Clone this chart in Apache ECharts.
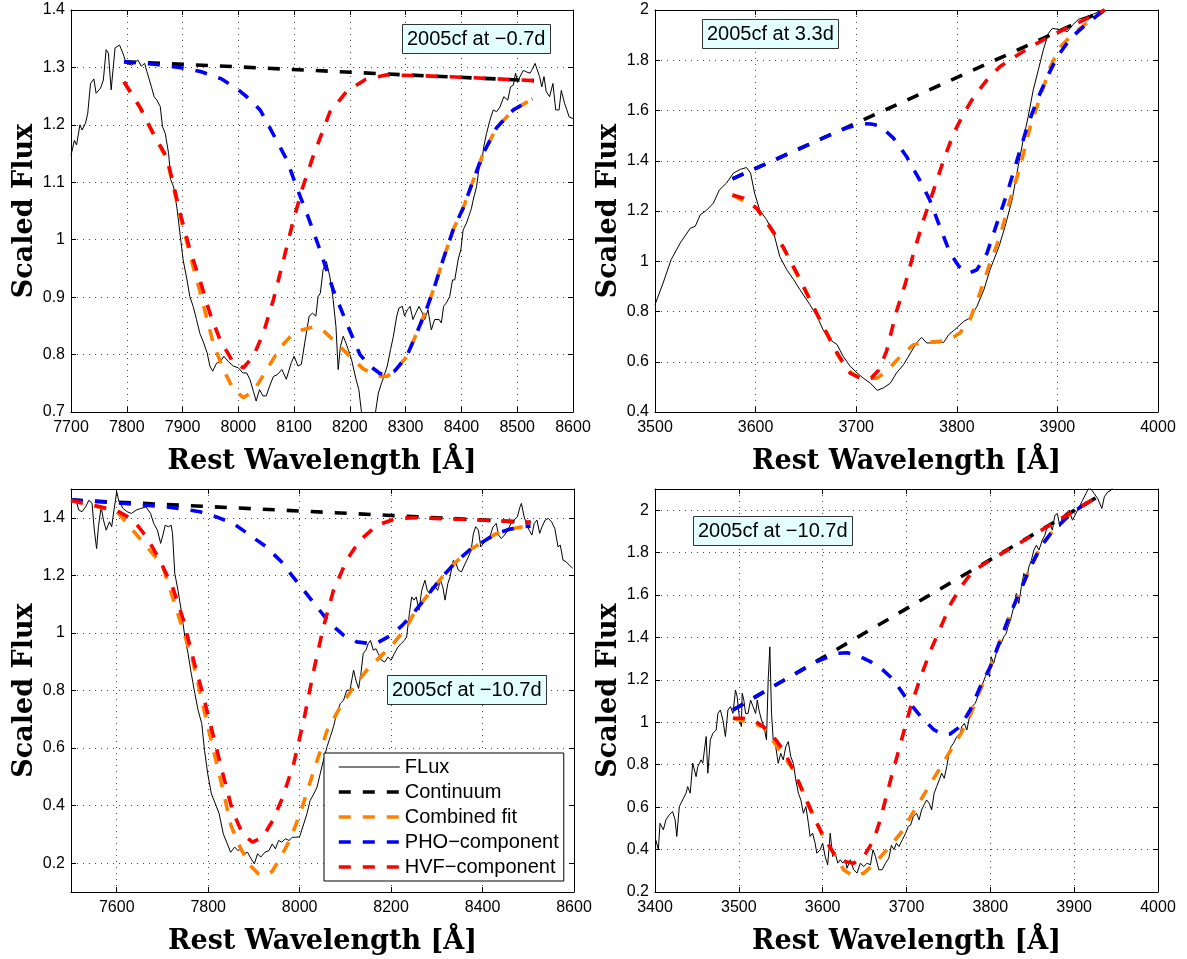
<!DOCTYPE html>
<html><head><meta charset="utf-8">
<script src="https://cdn.jsdelivr.net/npm/echarts@6/dist/echarts.min.js"></script>
<style>html,body{margin:0;padding:0;background:#fff}#c{width:1187px;height:959px}</style>
</head><body><div id="c"></div>
<script>
// ---------------- DATA ----------------
const SERIES_NAMES = ['FLux','Continuum','Combined fit','PHO−component','HVF−component'];
const BOX_TEXT = ['2005cf at −0.7d','2005cf at 3.3d','2005cf at −10.7d','2005cf at −10.7d'];
const X_TITLE = 'Rest Wavelength [Å]';
const Y_TITLE = 'Scaled Flux';
const BL_XTICKS = [7600,7800,8000,8200,8400,8600];
const BL_YTICKS = [0.2,0.4,0.6,0.8,1.0,1.2,1.4];
const BR_YTICKS = [0.2,0.4,0.6,0.8,1.0,1.2,1.4,1.6,1.8,2.0];

// Top-left panel (-0.7d)
const TL_FLUX = [[7700,1.147],[7706,1.173],[7710,1.165],[7716,1.200],[7720,1.191],[7726,1.203],[7730,1.220],[7735,1.272],[7741,1.280],[7745,1.255],[7753,1.264],[7758,1.278],[7763,1.331],[7767,1.325],[7772,1.261],[7779,1.334],[7787,1.339],[7793,1.325],[7799,1.307],[7809,1.304],[7820,1.313],[7826,1.302],[7832,1.307],[7836,1.293],[7844,1.267],[7849,1.249],[7854,1.243],[7860,1.232],[7864,1.197],[7869,1.185],[7875,1.150],[7879,1.104],[7884,1.092],[7890,1.055],[7896,1.006],[7901,0.965],[7908,0.930],[7913,0.901],[7919,0.884],[7925,0.861],[7931,0.837],[7938,0.820],[7944,0.803],[7949,0.780],[7954,0.771],[7961,0.785],[7968,0.788],[7974,0.797],[7982,0.788],[7991,0.780],[8000,0.777],[8008,0.768],[8015,0.768],[8021,0.756],[8027,0.736],[8032,0.719],[8038,0.739],[8044,0.728],[8050,0.728],[8056,0.745],[8063,0.762],[8070,0.765],[8078,0.774],[8086,0.757],[8095,0.786],[8100,0.797],[8107,0.780],[8113,0.783],[8119,0.820],[8127,0.867],[8133,0.872],[8139,0.867],[8143,0.901],[8147,0.907],[8152,0.948],[8158,0.962],[8164,0.936],[8170,0.896],[8175,0.849],[8179,0.774],[8183,0.814],[8188,0.832],[8193,0.820],[8197,0.809],[8203,0.791],[8211,0.757],[8216,0.739],[8221,0.698],[8226,0.660],[8232,0.640],[8238,0.650],[8243,0.670],[8246,0.700],[8251,0.733],[8257,0.751],[8263,0.768],[8267,0.780],[8273,0.809],[8278,0.832],[8284,0.867],[8288,0.881],[8294,0.884],[8298,0.867],[8303,0.878],[8308,0.884],[8313,0.861],[8318,0.872],[8324,0.884],[8330,0.872],[8334,0.861],[8340,0.878],[8346,0.843],[8352,0.861],[8360,0.861],[8364,0.855],[8368,0.884],[8373,0.890],[8379,0.901],[8384,0.930],[8388,0.930],[8394,0.965],[8399,0.983],[8403,1.017],[8409,1.029],[8413,1.040],[8418,1.055],[8421,1.069],[8427,1.092],[8432,1.127],[8436,1.133],[8440,1.162],[8445,1.185],[8451,1.208],[8457,1.226],[8463,1.223],[8469,1.231],[8476,1.249],[8483,1.243],[8488,1.266],[8493,1.269],[8497,1.290],[8501,1.275],[8505,1.284],[8511,1.295],[8517,1.292],[8523,1.290],[8526,1.295],[8532,1.307],[8535,1.310],[8540,1.284],[8544,1.266],[8548,1.284],[8552,1.258],[8558,1.249],[8564,1.272],[8569,1.226],[8575,1.226],[8579,1.260],[8585,1.237],[8589,1.226],[8593,1.214],[8600,1.211]];
const TL_CONT = [[7795,1.310],[8000,1.301],[8300,1.287],[8530,1.277]];
const TL_COMB = [[7795,1.275],[7824,1.230],[7848,1.183],[7872,1.140],[7896,1.040],[7913,0.975],[7931,0.910],[7955,0.820],[7973,0.774],[7991,0.740],[8009,0.725],[8027,0.736],[8051,0.774],[8075,0.812],[8092,0.830],[8110,0.842],[8134,0.848],[8152,0.842],[8176,0.820],[8200,0.797],[8224,0.775],[8248,0.763],[8266,0.762],[8281,0.771],[8302,0.797],[8320,0.838],[8337,0.878],[8352,0.919],[8367,0.965],[8385,1.017],[8403,1.055],[8421,1.103],[8439,1.150],[8463,1.195],[8493,1.226],[8527,1.245]];
const TL_PHO = [[7795,1.310],[7854,1.305],[7900,1.299],[7932,1.293],[7970,1.280],[8000,1.261],[8020,1.245],[8039,1.226],[8051,1.205],[8070,1.170],[8087,1.139],[8105,1.090],[8125,1.040],[8146,0.983],[8170,0.913],[8194,0.855],[8218,0.800],[8236,0.780],[8254,0.767],[8266,0.765],[8281,0.772],[8302,0.797],[8320,0.838],[8337,0.878],[8352,0.919],[8367,0.965],[8385,1.017],[8403,1.055],[8421,1.103],[8439,1.150],[8463,1.195],[8493,1.226],[8527,1.245]];
const TL_HVF = [[7795,1.275],[7824,1.230],[7848,1.184],[7872,1.143],[7896,1.045],[7913,0.983],[7931,0.930],[7949,0.872],[7967,0.826],[7991,0.786],[8009,0.777],[8027,0.797],[8045,0.838],[8063,0.896],[8081,0.965],[8099,1.035],[8115,1.090],[8134,1.145],[8164,1.222],[8194,1.258],[8228,1.279],[8265,1.287],[8313,1.286],[8400,1.283],[8530,1.277]];

// Top-right panel (3.3d)
const TR_FLUX = [[3500,0.827],[3508,0.913],[3516,1.006],[3525,1.072],[3535,1.131],[3540,1.139],[3545,1.185],[3551,1.202],[3558,1.231],[3564,1.284],[3571,1.311],[3578,1.351],[3585,1.366],[3591,1.373],[3595,1.351],[3599,1.271],[3604,1.205],[3611,1.165],[3618,1.112],[3624,1.019],[3631,0.966],[3638,0.926],[3644,0.887],[3654,0.827],[3661,0.781],[3667,0.728],[3674,0.688],[3681,0.668],[3687,0.622],[3694,0.582],[3701,0.555],[3707,0.535],[3714,0.515],[3721,0.486],[3727,0.496],[3734,0.515],[3740,0.555],[3747,0.588],[3754,0.635],[3760,0.675],[3765,0.697],[3770,0.675],[3777,0.675],[3787,0.677],[3792,0.708],[3798,0.728],[3807,0.761],[3813,0.774],[3820,0.820],[3827,0.887],[3833,0.966],[3842,1.059],[3848,1.139],[3855,1.245],[3861,1.377],[3866,1.483],[3871,1.576],[3876,1.682],[3881,1.761],[3886,1.841],[3891,1.907],[3895,1.927],[3900,1.923],[3905,1.920],[3910,1.914],[3915,1.940],[3921,1.963],[3928,1.973],[3936,1.984],[3944,2.000]];
const TR_CONT = [[3577,1.328],[3700,1.550],[3850,1.822],[3947,2.000]];
const TR_COMB = [[3577,1.264],[3601,1.211],[3627,1.059],[3654,0.847],[3681,0.632],[3691,0.565],[3701,0.542],[3711,0.535],[3721,0.535],[3731,0.565],[3744,0.622],[3757,0.668],[3770,0.677],[3783,0.681],[3793,0.688],[3803,0.714],[3813,0.767],[3823,0.873],[3833,0.993],[3843,1.099],[3853,1.245],[3863,1.377],[3873,1.536],[3883,1.655],[3893,1.775],[3903,1.854],[3916,1.907],[3929,1.947],[3947,2.000]];
const TR_PHO = [[3577,1.328],[3620,1.405],[3660,1.478],[3690,1.530],[3705,1.548],[3715,1.546],[3724,1.538],[3737,1.490],[3750,1.417],[3763,1.324],[3773,1.245],[3783,1.139],[3793,1.035],[3802,0.980],[3812,0.953],[3820,0.966],[3830,1.032],[3840,1.152],[3850,1.271],[3860,1.404],[3870,1.536],[3880,1.642],[3890,1.735],[3900,1.814],[3913,1.887],[3926,1.934],[3940,1.980],[3947,2.000]];
const TR_HVF = [[3577,1.264],[3588,1.251],[3601,1.211],[3614,1.139],[3627,1.059],[3641,0.953],[3654,0.847],[3667,0.741],[3681,0.635],[3694,0.555],[3707,0.529],[3715,0.535],[3722,0.565],[3730,0.640],[3740,0.800],[3749,0.913],[3757,1.032],[3767,1.165],[3777,1.284],[3787,1.404],[3797,1.510],[3807,1.589],[3817,1.655],[3830,1.722],[3843,1.775],[3860,1.820],[3876,1.860],[3900,1.910],[3947,2.000]];

// Bottom-left panel (-10.7d)
const BL_FLUX = [[7502,1.461],[7510,1.467],[7517,1.427],[7524,1.421],[7532,1.438],[7539,1.461],[7546,1.450],[7551,1.357],[7556,1.293],[7560,1.369],[7566,1.438],[7571,1.392],[7577,1.357],[7584,1.386],[7589,1.369],[7594,1.427],[7600,1.490],[7605,1.456],[7614,1.432],[7623,1.421],[7632,1.415],[7643,1.427],[7652,1.432],[7664,1.438],[7674,1.415],[7681,1.380],[7689,1.357],[7696,1.311],[7701,1.340],[7706,1.374],[7713,1.369],[7719,1.374],[7722,1.346],[7727,1.206],[7734,1.148],[7741,1.079],[7749,0.986],[7756,0.928],[7763,0.859],[7771,0.789],[7778,0.731],[7786,0.685],[7792,0.592],[7799,0.511],[7807,0.441],[7817,0.401],[7824,0.372],[7833,0.302],[7842,0.267],[7849,0.238],[7858,0.256],[7865,0.244],[7872,0.250],[7879,0.233],[7886,0.238],[7894,0.215],[7901,0.198],[7908,0.233],[7915,0.221],[7924,0.238],[7933,0.244],[7940,0.267],[7947,0.250],[7954,0.279],[7961,0.273],[7969,0.285],[7977,0.279],[7984,0.290],[7991,0.290],[8000,0.292],[8009,0.337],[8016,0.372],[8023,0.418],[8031,0.441],[8038,0.464],[8045,0.511],[8052,0.557],[8060,0.605],[8067,0.639],[8074,0.674],[8081,0.720],[8089,0.755],[8096,0.766],[8103,0.801],[8110,0.801],[8118,0.871],[8123,0.836],[8129,0.807],[8134,0.859],[8139,0.928],[8145,0.940],[8150,0.963],[8155,0.974],[8161,0.940],[8167,0.945],[8172,0.928],[8179,0.905],[8186,0.899],[8193,0.916],[8200,0.905],[8207,0.928],[8215,0.951],[8222,0.963],[8229,0.974],[8234,0.986],[8240,1.067],[8245,1.125],[8250,1.114],[8255,1.125],[8261,1.079],[8267,1.148],[8274,1.183],[8279,1.148],[8284,1.137],[8289,1.160],[8297,1.160],[8302,1.148],[8308,1.183],[8313,1.160],[8318,1.114],[8324,1.171],[8329,1.195],[8336,1.252],[8342,1.241],[8347,1.218],[8354,1.212],[8362,1.241],[8369,1.264],[8375,1.287],[8380,1.345],[8385,1.369],[8391,1.357],[8396,1.299],[8402,1.311],[8409,1.328],[8416,1.334],[8423,1.369],[8430,1.380],[8435,1.340],[8441,1.328],[8448,1.340],[8455,1.357],[8462,1.380],[8469,1.392],[8476,1.403],[8482,1.438],[8485,1.450],[8491,1.403],[8496,1.380],[8502,1.357],[8508,1.340],[8513,1.380],[8519,1.392],[8525,1.346],[8530,1.369],[8537,1.392],[8544,1.398],[8551,1.386],[8558,1.363],[8565,1.299],[8570,1.305],[8576,1.253],[8583,1.247],[8590,1.235],[8597,1.225]];
const BL_CONT = [[7500,1.462],[7800,1.439],[8200,1.408],[8505,1.384]];
const BL_COMB = [[7500,1.460],[7600,1.423],[7700,1.235],[7766,0.905],[7800,0.670],[7830,0.470],[7850,0.330],[7870,0.255],[7890,0.195],[7910,0.163],[7925,0.157],[7940,0.172],[7960,0.225],[7980,0.285],[8001,0.372],[8031,0.522],[8060,0.661],[8089,0.743],[8118,0.813],[8147,0.871],[8176,0.917],[8205,0.963],[8234,1.021],[8254,1.079],[8283,1.137],[8312,1.195],[8342,1.247],[8371,1.287],[8400,1.316],[8430,1.345],[8459,1.360],[8488,1.369],[8505,1.371]];
const BL_PHO = [[7500,1.462],[7600,1.452],[7710,1.438],[7782,1.421],[7818,1.403],[7855,1.380],[7891,1.340],[7927,1.299],[7964,1.241],[7980,1.206],[7993,1.180],[8009,1.148],[8038,1.090],[8067,1.032],[8096,0.992],[8125,0.969],[8154,0.963],[8169,0.965],[8200,0.992],[8225,1.027],[8254,1.079],[8283,1.137],[8312,1.195],[8342,1.247],[8371,1.287],[8400,1.316],[8430,1.345],[8459,1.360],[8488,1.369],[8505,1.371]];
const BL_HVF = [[7500,1.460],[7564,1.438],[7600,1.425],[7636,1.392],[7665,1.334],[7694,1.253],[7722,1.160],[7746,1.044],[7766,0.917],[7788,0.789],[7810,0.650],[7832,0.511],[7853,0.383],[7875,0.302],[7897,0.273],[7919,0.290],[7941,0.348],[7963,0.429],[7987,0.546],[8009,0.697],[8031,0.871],[8052,1.021],[8074,1.148],[8103,1.253],[8132,1.322],[8169,1.374],[8212,1.398],[8255,1.400],[8350,1.395],[8505,1.384]];

// Bottom-right panel (-10.7d)
const BR_FLUX = [[3401,0.446],[3404,0.399],[3406,0.524],[3410,0.493],[3413,0.540],[3417,0.564],[3421,0.579],[3424,0.540],[3426,0.462],[3429,0.603],[3433,0.634],[3437,0.666],[3439,0.697],[3442,0.666],[3445,0.807],[3449,0.744],[3451,0.791],[3455,0.823],[3457,0.807],[3461,0.933],[3463,0.760],[3466,0.917],[3469,0.948],[3473,0.964],[3475,1.042],[3478,1.058],[3481,1.011],[3484,0.933],[3487,1.058],[3490,1.074],[3493,1.042],[3496,1.152],[3498,1.121],[3501,1.011],[3503,0.980],[3504,1.137],[3506,1.105],[3508,1.042],[3511,1.042],[3514,1.105],[3517,1.074],[3520,1.042],[3522,1.105],[3524,1.058],[3527,1.011],[3530,0.980],[3533,0.917],[3535,1.199],[3537,1.356],[3539,1.042],[3541,0.917],[3544,0.885],[3547,0.807],[3550,0.854],[3553,0.823],[3556,0.885],[3559,0.909],[3562,0.838],[3565,0.807],[3568,0.728],[3571,0.666],[3574,0.634],[3577,0.571],[3580,0.603],[3583,0.524],[3585,0.462],[3588,0.477],[3591,0.430],[3593,0.383],[3597,0.399],[3600,0.430],[3603,0.367],[3606,0.328],[3609,0.477],[3612,0.367],[3615,0.383],[3618,0.336],[3621,0.352],[3624,0.336],[3627,0.352],[3629,0.312],[3633,0.352],[3637,0.305],[3641,0.289],[3645,0.336],[3649,0.320],[3653,0.336],[3657,0.328],[3660,0.399],[3663,0.367],[3667,0.305],[3671,0.305],[3675,0.336],[3679,0.360],[3682,0.420],[3685,0.400],[3688,0.430],[3691,0.414],[3695,0.446],[3699,0.477],[3702,0.509],[3705,0.516],[3708,0.556],[3712,0.571],[3715,0.540],[3718,0.587],[3721,0.611],[3724,0.634],[3727,0.619],[3730,0.587],[3733,0.666],[3736,0.697],[3739,0.728],[3742,0.760],[3745,0.736],[3748,0.791],[3750,0.838],[3753,0.885],[3756,0.901],[3760,0.932],[3764,0.948],[3766,0.980],[3769,0.995],[3772,0.964],[3776,1.042],[3778,1.074],[3782,1.089],[3785,1.121],[3788,1.152],[3791,1.184],[3794,1.215],[3797,1.246],[3799,1.215],[3801,1.309],[3804,1.278],[3807,1.325],[3810,1.356],[3813,1.372],[3816,1.403],[3819,1.419],[3821,1.450],[3824,1.482],[3828,1.545],[3831,1.608],[3834,1.560],[3837,1.639],[3840,1.702],[3843,1.670],[3846,1.733],[3849,1.765],[3852,1.812],[3855,1.835],[3858,1.812],[3862,1.859],[3865,1.882],[3868,1.922],[3871,1.937],[3874,1.906],[3877,1.976],[3880,1.984],[3883,1.922],[3886,1.969],[3890,1.984],[3894,2.000],[3898,1.953],[3902,1.984],[3906,2.016],[3910,2.047],[3914,2.078],[3918,2.110],[3924,2.078],[3928,2.055],[3933,2.008],[3936,2.063],[3940,2.086],[3944,2.094],[3948,2.120],[3952,2.150]];
const BR_CONT = [[3493,1.058],[3700,1.536],[3928,2.063]];
const BR_COMB = [[3493,1.019],[3529,0.980],[3565,0.776],[3601,0.455],[3617,0.360],[3625,0.305],[3637,0.273],[3649,0.289],[3661,0.330],[3671,0.375],[3681,0.420],[3693,0.477],[3705,0.556],[3717,0.634],[3729,0.713],[3741,0.791],[3753,0.870],[3765,0.948],[3777,1.042],[3788,1.152],[3800,1.262],[3812,1.388],[3824,1.513],[3836,1.623],[3848,1.733],[3860,1.827],[3872,1.890],[3884,1.937],[3896,1.984],[3908,2.016],[3920,2.047],[3928,2.063]];
const BR_PHO = [[3493,1.058],[3550,1.190],[3593,1.286],[3617,1.325],[3629,1.328],[3641,1.317],[3657,1.286],[3672,1.246],[3685,1.199],[3701,1.105],[3717,1.027],[3733,0.964],[3745,0.940],[3752,0.945],[3764,0.980],[3776,1.058],[3788,1.168],[3800,1.262],[3812,1.388],[3824,1.513],[3836,1.623],[3848,1.733],[3860,1.827],[3872,1.890],[3884,1.937],[3896,1.984],[3908,2.016],[3920,2.047],[3928,2.063]];
const BR_HVF = [[3493,1.019],[3505,1.019],[3517,1.011],[3529,0.980],[3541,0.933],[3553,0.870],[3565,0.776],[3577,0.666],[3589,0.556],[3601,0.462],[3613,0.383],[3625,0.344],[3637,0.336],[3649,0.367],[3661,0.446],[3669,0.545],[3681,0.728],[3693,0.901],[3705,1.074],[3717,1.215],[3729,1.341],[3741,1.450],[3753,1.560],[3765,1.639],[3777,1.702],[3788,1.735],[3800,1.765],[3850,1.880],[3928,2.063]];

// ---------------- CHART ----------------
const PANELS = [
  {data:[TL_FLUX,TL_CONT,TL_COMB,TL_PHO,TL_HVF], grid:{left:71,top:10,width:502,height:402},
   x:{min:7700,max:8600,interval:100}, y:{min:0.7,max:1.4,interval:0.1}, box:[402,24]},
  {data:[TR_FLUX,TR_CONT,TR_COMB,TR_PHO,TR_HVF], grid:{left:655,top:10,width:503,height:402},
   x:{min:3500,max:4000,interval:100}, y:{min:0.4,max:2,interval:0.2}, box:[702,19]},
  {data:[BL_FLUX,BL_CONT,BL_COMB,BL_PHO,BL_HVF], grid:{left:71,top:489,width:503,height:403},
   x:{min:7500,max:8600,ticks:BL_XTICKS}, y:{min:0.1,max:1.5,ticks:BL_YTICKS}, box:[387,675]},
  {data:[BR_FLUX,BR_CONT,BR_COMB,BR_PHO,BR_HVF], grid:{left:655,top:489,width:503,height:403},
   x:{min:3400,max:4000,interval:100}, y:{min:0.2,max:2.1,ticks:BR_YTICKS}, box:[693,516]}
];
const COLORS = ['#000000','#000000','#ff8000','#0000ff','#ff0000'];
const DASH = [12,12];
const LABEL_FONT = 'Liberation Sans, Arial, sans-serif';

function fmt(v){ return String(Math.round(v*1000)/1000); }

function makeAxis(dim, gi, cfg, main) {
  const o = {
    type:'value', gridIndex:gi, min:cfg.min, max:cfg.max,
    position: dim==='x' ? (main?'bottom':'top') : (main?'left':'right'),
    axisLine:{show:true,onZero:false,lineStyle:{color:'#000',width:1}},
    axisTick:{show:true,inside:true,length:5,lineStyle:{color:'#000',width:1}},
    axisLabel:{show:main,color:'#000',fontFamily:LABEL_FONT,fontSize:16,margin:dim==='x'?8:6,formatter:fmt},
    splitLine:{show:main,lineStyle:{color:'#444',width:1,type:[1,5]}},
    splitArea:{show:false}, minorTick:{show:false}
  };
  if (cfg.interval) o.interval = cfg.interval;
  if (cfg.ticks) { o.axisTick.customValues = cfg.ticks; o.axisLabel.customValues = cfg.ticks; }
  if (main) {
    o.name = dim==='x' ? X_TITLE : Y_TITLE;
    o.nameLocation = 'middle';
    o.nameGap = dim==='x' ? 36 : 29;
    o.nameTextStyle = {fontFamily:'DejaVu Serif', fontWeight:'bold', fontSize:27, color:'#000'};
  }
  return o;
}

const grid=[], xAxis=[], yAxis=[], series=[], title=[];
PANELS.forEach((p,i)=>{
  grid.push(Object.assign({show:false, outerBoundsMode:'none'}, p.grid));
  xAxis.push(makeAxis('x',i,p.x,true)); xAxis.push(makeAxis('x',i,p.x,false));
  yAxis.push(makeAxis('y',i,p.y,true)); yAxis.push(makeAxis('y',i,p.y,false));
  p.data.forEach((d,j)=>{
    series.push({
      type:'line', name:SERIES_NAMES[j], xAxisIndex:2*i, yAxisIndex:2*i, data:d,
      symbol:'none', showSymbol:false, clip:true, silent:true, z:2+j,
      lineStyle:{color:COLORS[j], width:j===0?1:3.6, type:j===0?'solid':DASH, cap:'butt'},
      itemStyle:{color:COLORS[j]}, emphasis:{disabled:true}
    });
  });
  title.push({
    text:BOX_TEXT[i], left:p.box[0], top:p.box[1], padding:[4,5],
    backgroundColor:'#e4ffff', borderColor:'#333', borderWidth:1,
    textStyle:{fontFamily:LABEL_FONT, fontSize:20, fontWeight:'normal', color:'#000', lineHeight:22}
  });
});

const chart = echarts.init(document.getElementById('c'), null, {renderer:'canvas'});
chart.setOption({
  animation:false, backgroundColor:'#ffffff',
  title, grid, xAxis, yAxis, series,
  legend:{
    show:true, orient:'vertical', left:324, top:753, padding:[4,5,4,13],
    itemWidth:61, itemHeight:14, itemGap:5, selectedMode:false,
    backgroundColor:'#fff', borderColor:'#000', borderWidth:1,
    itemStyle:{opacity:0, borderWidth:0},
    lineStyle:{width:'inherit'},
    textStyle:{fontFamily:LABEL_FONT, fontSize:20, color:'#000', lineHeight:20},
    data:SERIES_NAMES
  }
});
</script></body></html>
